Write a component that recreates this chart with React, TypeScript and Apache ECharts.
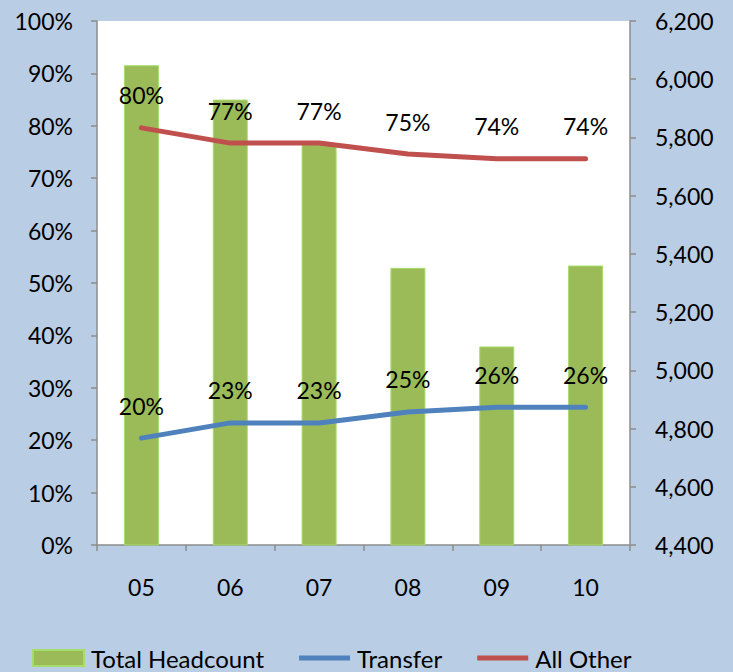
import React, { useEffect, useRef } from "react";
import * as echarts from "echarts";

const categories = ["05", "06", "07", "08", "09", "10"];
const totalHeadcount = [6048, 5930, 5778, 5352, 5082, 5360];
const transfer = [0.204, 0.233, 0.233, 0.254, 0.263, 0.263];
const allOther = [0.796, 0.767, 0.767, 0.746, 0.737, 0.737];

const FONT = "Lato";
const LINE_ICON = "path://M0,0H51V5H0Z";

export default function App() {
  const ref = useRef<HTMLDivElement>(null);
  useEffect(() => {
    if (!ref.current) return;
    const chart = echarts.init(ref.current, null, { renderer: "svg" });
    const axisColor = "#8c8c8c";
    const pctLabel = {
      show: true,
      position: "top",
      distance: 21,
      fontFamily: FONT,
      fontSize: 23,
      color: "#000",
      formatter: (p: any) => Math.round(p.value * 100) + "%",
    };
    chart.setOption({
      animation: false,
      backgroundColor: "#b9cde5",
      textStyle: { fontFamily: FONT },
      grid: { left: 97, right: 103, top: 21, bottom: 127, backgroundColor: "#ffffff", show: true, borderWidth: 0 },
      legend: {
        bottom: 2,
        left: 32,
        padding: 0,
        itemGap: 35,
        itemWidth: 51,
        itemHeight: 16,
        textStyle: { fontFamily: FONT, fontSize: 24, color: "#000", padding: [0, 0, 0, 2] },
        data: [
          { name: "Total Headcount", icon: "rect" },
          { name: "Transfer", icon: LINE_ICON },
          { name: "All Other", icon: LINE_ICON },
        ],
      },
      xAxis: {
        type: "category",
        data: categories,
        axisLine: { lineStyle: { color: axisColor, width: 1.5 } },
        axisTick: { show: true, length: 6, lineStyle: { color: axisColor, width: 1.5 } },
        axisLabel: { fontFamily: FONT, fontSize: 23, color: "#000", margin: 30 },
      },
      yAxis: [
        {
          type: "value",
          min: 0,
          max: 1,
          interval: 0.1,
          splitLine: { show: false },
          axisLine: { show: true, lineStyle: { color: axisColor, width: 1.5 } },
          axisTick: { show: true, length: 6, lineStyle: { color: axisColor, width: 1.5 } },
          axisLabel: {
            fontFamily: FONT,
            fontSize: 23,
            color: "#000",
            margin: 24,
            formatter: (v: number) => Math.round(v * 100) + "%",
          },
        },
        {
          type: "value",
          min: 4400,
          max: 6200,
          interval: 200,
          position: "right",
          splitLine: { show: false },
          axisLine: { show: true, lineStyle: { color: axisColor, width: 1.5 } },
          axisTick: { show: true, length: 6, lineStyle: { color: axisColor, width: 1.5 } },
          axisLabel: {
            fontFamily: FONT,
            fontSize: 23,
            color: "#000",
            margin: 25,
            formatter: (v: number) => v.toLocaleString("en-US"),
          },
        },
      ],
      series: [
        {
          name: "Total Headcount",
          type: "bar",
          yAxisIndex: 1,
          data: totalHeadcount,
          barWidth: 35,
          itemStyle: { color: "#9bbb59", borderColor: "#a6dc6a", borderWidth: 1 },
        },
        {
          name: "Transfer",
          type: "line",
          yAxisIndex: 0,
          data: transfer,
          symbol: "circle",
          symbolSize: 0.1,
          showSymbol: true,
          lineStyle: { color: "#4f81bd", width: 5, cap: "round" },
          itemStyle: { color: "#4f81bd" },
          label: pctLabel,
        },
        {
          name: "All Other",
          type: "line",
          yAxisIndex: 0,
          data: allOther,
          symbol: "circle",
          symbolSize: 0.1,
          showSymbol: true,
          lineStyle: { color: "#c0504d", width: 5, cap: "round" },
          itemStyle: { color: "#c0504d" },
          label: pctLabel,
        },
      ],
    });
    return () => chart.dispose();
  }, []);
  return <div ref={ref} style={{ width: 733, height: 672, position: "absolute", left: 0, top: 0 }} />;
}
